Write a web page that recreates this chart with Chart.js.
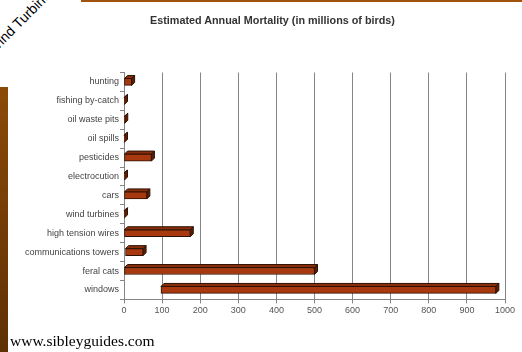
<!DOCTYPE html>
<html>
<head>
<meta charset="utf-8">
<script src="https://cdn.jsdelivr.net/npm/chart.js@4.4.1/dist/chart.umd.min.js"></script>
<style>
  html, body { margin: 0; padding: 0; background: #fff; }
  body { width: 522px; height: 352px; position: relative; overflow: hidden; }
  #wrap { position: absolute; left: 0; top: 0; width: 522px; height: 352px; }
  .side-bar { position: absolute; left: 0; top: 87px; width: 8px; height: 265px;
    background: linear-gradient(#8b4a08, #5e3004); }
  .top-rule { position: absolute; left: 81px; top: 0; width: 441px; height: 2px; background: #a0530c; }
  .slide-tag { position: absolute; left: -15px; top: 46px; font: 14px "Liberation Sans", Arial, sans-serif;
    line-height: 14px; color: #000; transform-origin: 0 0; transform: rotate(-45deg); white-space: nowrap; }
  .chart-title { position: absolute; left: 0; width: 545px; top: 14px; text-align: center;
    font: bold 10.8px "Liberation Sans", Arial, sans-serif; line-height: 13px; color: #333; white-space: nowrap; }
  .source { position: absolute; left: 10px; top: 332px; font: 15.5px "Liberation Serif", "Times New Roman", serif;
    color: #000; white-space: nowrap; }
</style>
</head>
<body>
<div class="side-bar"></div>
<div class="top-rule"></div>
<div class="slide-tag">Wind Turbines</div>
<div id="wrap"><canvas id="c" width="522" height="352"></canvas></div>
<div class="chart-title">Estimated Annual Mortality (in millions of birds)</div>
<div class="source">www.sibleyguides.com</div>
<script>
// Causes of bird deaths, top to bottom
const causes = [
  'hunting', 'fishing by-catch', 'oil waste pits', 'oil spills', 'pesticides',
  'electrocution', 'cars', 'wind turbines', 'high tension wires',
  'communications towers', 'feral cats', 'windows'
];
// Low and high end of each estimate (millions of birds per year)
const lowEstimate  = [0, 0, 0, 0, 0, 0, 0, 0, 0, 4, 0, 97];
const highEstimate = [20, 1, 2, 0.5, 72, 0.5, 60, 0.03, 174, 50, 500, 976];
// Value axis ticks
const axisTicks = [0, 100, 200, 300, 400, 500, 600, 700, 800, 900, 1000];

const ranges = causes.map((_, i) => [lowEstimate[i], highEstimate[i]]);

// Gives every bar a shallow extruded look (top and right faces)
const extrude = {
  id: 'extrude',
  beforeDatasetsDraw(chart) {
    const ctx = chart.ctx;
    const d = 3;
    chart.getDatasetMeta(0).data.forEach(bar => {
      const p = bar.getProps(['x', 'y', 'base', 'height'], true);
      const left = Math.min(p.x, p.base), right = Math.max(p.x, p.base);
      const top = p.y - p.height / 2, bottom = p.y + p.height / 2;
      ctx.save();
      ctx.lineWidth = 1;
      ctx.strokeStyle = '#2e1206';
      ctx.fillStyle = '#8a2e0a';
      ctx.beginPath();
      ctx.moveTo(left, top); ctx.lineTo(left + d, top - d);
      ctx.lineTo(right + d, top - d); ctx.lineTo(right, top); ctx.closePath();
      ctx.fill(); ctx.stroke();
      ctx.fillStyle = '#5a1e06';
      ctx.beginPath();
      ctx.moveTo(right, top); ctx.lineTo(right + d, top - d);
      ctx.lineTo(right + d, bottom - d); ctx.lineTo(right, bottom); ctx.closePath();
      ctx.fill(); ctx.stroke();
      ctx.restore();
    });
  }
};

const gridGrey = '#858585';
const labelFont = { family: '"Liberation Sans", Arial, sans-serif', size: 9 };

new Chart(document.getElementById('c'), {
  type: 'bar',
  data: {
    labels: causes,
    datasets: [{
      data: ranges,
      backgroundColor: '#a8390e',
      borderColor: '#2e1206',
      borderWidth: 1,
      borderSkipped: false,
      barThickness: 7
    }]
  },
  options: {
    indexAxis: 'y',
    responsive: false,
    animation: false,
    layout: { padding: { left: 0, right: 17, top: 72.5, bottom: 32.6 } },
    plugins: {
      legend: { display: false },
      tooltip: { enabled: false }
    },
    scales: {
      x: {
        min: 0, max: 1000,
        afterBuildTicks: s => { s.ticks = axisTicks.map(v => ({ value: v })); },
        afterFit: s => { s.height = 20; },
        ticks: { color: '#555', font: labelFont, padding: 2, maxRotation: 0,
          callback: v => String(v) },
        grid: { color: gridGrey, lineWidth: 1, tickLength: 4 },
        border: { display: true, color: gridGrey }
      },
      y: {
        afterFit: s => { s.width = 124; },
        ticks: { color: '#444', font: labelFont, padding: 1 },
        grid: { drawOnChartArea: false, offset: true, color: gridGrey, tickLength: 4 },
        border: { display: true, color: gridGrey }
      }
    }
  },
  plugins: [extrude]
});
</script>
</body>
</html>
